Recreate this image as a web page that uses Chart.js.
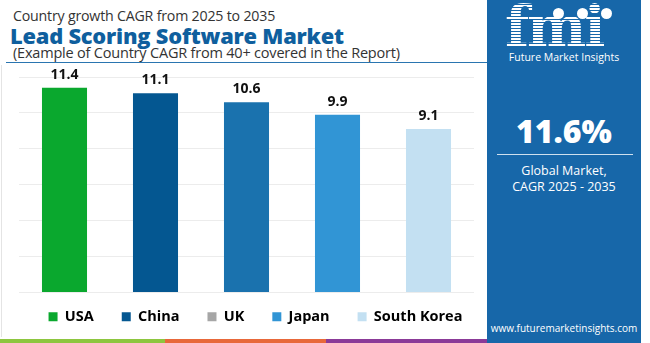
<!DOCTYPE html>
<html>
<head>
<meta charset="utf-8">
<script src="https://cdn.jsdelivr.net/npm/chart.js@4/dist/chart.umd.min.js"></script>
<style>
  * { margin:0; padding:0; box-sizing:border-box; }
  body { width:650px; height:343px; background:#fff; font-family:'Open Sans', sans-serif; position:relative; overflow:hidden; }
  .sub1 { position:absolute; left:13px; top:6px; font-size:14.2px; color:#333; letter-spacing:-0.2px; }
  .title { position:absolute; left:10px; top:21px; font-size:21.8px; font-weight:800; color:#0f5f9e; letter-spacing:-0.2px; }
  .sub2 { position:absolute; left:13px; top:43px; font-size:14.5px; color:#333; letter-spacing:-0.2px; }
  .rule { position:absolute; left:6px; top:62px; width:481px; height:1px; background:#2a75b0; }
  .edge { position:absolute; left:1px; top:65px; width:1px; height:272px; background:#e4e4e4; }
  #wrap { position:absolute; left:0; top:65px; width:492px; height:280px; }
  .strip { position:absolute; top:339px; height:4px; }
  .panel { position:absolute; left:487px; top:0; width:154px; height:343px; background:#1767a9; color:#fff; text-align:center; }
  .logo { position:absolute; left:0; top:2px; width:154px; height:52px; }
  .logo .fmi { position:absolute; left:18px; top:-9px; font-family:'DejaVu Serif', serif; font-weight:bold; font-size:56px; letter-spacing:-2px;
    background:repeating-linear-gradient(180deg,#fff 0 2px, transparent 2px 3px); -webkit-background-clip:text; background-clip:text; color:transparent; }
  .logo .dot { position:absolute; top:6px; width:11px; height:11px; border-radius:50%; background:#fff; }
  .brand { position:absolute; left:0; top:50px; width:154px; font-size:10.5px; }
  .big { position:absolute; left:0; top:109px; width:154px; font-size:32px; font-weight:800; }
  .prule { position:absolute; left:10px; top:154px; width:136px; height:1px; background:#cfe0ee; }
  .glob { position:absolute; left:0; top:163px; width:154px; font-size:12.5px; line-height:16px; }
  .url { position:absolute; left:0; top:321px; width:154px; font-size:10px; }
</style>
</head>
<body>
<div class="sub1">Country growth CAGR from 2025 to 2035</div>
<div class="title">Lead Scoring Software Market</div>
<div class="sub2">(Example of Country CAGR from 40+ covered in the Report)</div>
<div class="rule"></div>
<div class="edge"></div>
<div id="wrap"><canvas id="chart" width="492" height="280"></canvas></div>
<div class="strip" style="left:0;width:165px;background:#8dc63f"></div>
<div class="strip" style="left:165px;width:161px;background:#e8683a"></div>
<div class="strip" style="left:326px;width:161px;background:#8b3a98"></div>
<div class="panel">
  <div class="logo">
    <div class="fmi">fmi</div>
    <div class="dot" style="left:66px"></div>
    <div class="dot" style="left:90px"></div>
    <div class="dot" style="left:114px"></div>
  </div>
  <div class="brand">Future Market Insights</div>
  <div class="big">11.6%</div>
  <div class="prule"></div>
  <div class="glob">Global Market,<br>CAGR 2025 - 2035</div>
  <div class="url">www.futuremarketinsights.com</div>
</div>
<script>
// ── Data ──────────────────────────────────────────────────────────────────────
const countries    = ['USA', 'China', 'UK', 'Japan', 'South Korea'];
const cagrValues   = [11.4, 11.1, 10.6, 9.9, 9.1];
const barColors    = ['#0aa82e', '#045791', '#1a72ae', '#3195d5', '#c3e0f2'];
const legendColors = ['#0aa82e', '#045791', '#a6a6a6', '#3195d5', '#c3e0f2'];
const yTicks       = [0, 2, 4, 6, 8, 10, 12];

// value labels above bars
const valueLabels = {
  id: 'valueLabels',
  afterDatasetsDraw(chart) {
    const { ctx } = chart;
    const meta = chart.getDatasetMeta(0);
    ctx.save();
    ctx.font = 'bold 14px "Open Sans", sans-serif';
    ctx.fillStyle = '#111';
    ctx.textAlign = 'center';
    ctx.textBaseline = 'bottom';
    meta.data.forEach((bar, i) => {
      ctx.fillText(cagrValues[i].toFixed(1), bar.x, bar.y - 6);
    });
    ctx.restore();
  }
};

// legend padding also spaces the items apart, so pull the row up a bit after layout
const legendLift = {
  id: 'legendLift',
  afterLayout(chart) {
    if (chart.legend) chart.legend.top -= 11;
  }
};

new Chart(document.getElementById('chart').getContext('2d'), {
  type: 'bar',
  data: {
    labels: countries,
    datasets: [{
      data: cagrValues,
      backgroundColor: barColors,
      barPercentage: 1,
      categoryPercentage: 0.495
    }]
  },
  options: {
    responsive: false,
    animation: false,
    layout: { padding: { left: 19, right: 0, top: 12, bottom: 0 } },
    plugins: {
      tooltip: { enabled: false },
      legend: {
        position: 'bottom',
        labels: {
          boxWidth: 9,
          boxHeight: 9,
          padding: 28,
          color: '#111',
          font: { family: '"Open Sans", sans-serif', size: 14.5, weight: 'bold' },
          generateLabels: () => countries.map((c, i) => ({
            text: c, fillStyle: legendColors[i], strokeStyle: legendColors[i], lineWidth: 0, index: i
          }))
        }
      }
    },
    scales: {
      x: { display: false },
      y: {
        position: 'right',
        min: yTicks[0],
        max: yTicks[yTicks.length - 1],
        afterBuildTicks: axis => { axis.ticks = yTicks.map(v => ({ value: v })); },
        afterFit: axis => { axis.width = 18; },
        ticks: { display: false },
        border: { display: false },
        grid: { color: '#ececec', drawTicks: false }
      }
    }
  },
  plugins: [valueLabels, legendLift]
});
</script>
</body>
</html>
